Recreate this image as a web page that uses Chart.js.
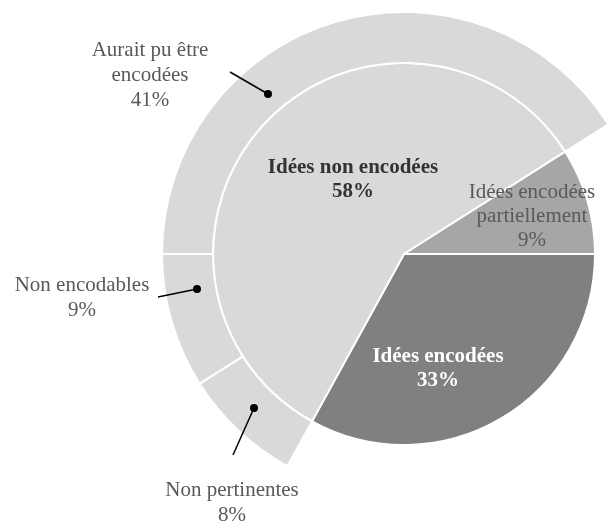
<!DOCTYPE html>
<html>
<head>
<meta charset="utf-8">
<script src="https://cdn.jsdelivr.net/npm/chart.js@4"></script>
<style>
  html, body { margin: 0; padding: 0; background: #fff; overflow: hidden; }
  #wrap { position: absolute; left: 0; top: 0; width: 808px; height: 521px; }
</style>
</head>
<body>
<div id="wrap"><canvas id="ideesChart"></canvas></div>
<script>
// inner pie: encoded / not encoded / partially encoded
const mainLabels = ['Idées encodées', 'Idées non encodées', 'Idées encodées partiellement'];
const mainValues = [33, 58, 9];
const mainColors = ['#808080', '#d9d9d9', '#a6a6a6'];

// outer ring: breakdown of the "non encodées" slice (gaps keep it aligned)
const detailLabels = ['', 'Non pertinentes', 'Non encodables', 'Aurait pu être encodées', ''];
const detailValues = [33, 8, 9, 41, 9];
const detailColors = ['rgba(0,0,0,0)', '#d9d9d9', '#d9d9d9', '#d9d9d9', 'rgba(0,0,0,0)'];
const detailBorders = ['rgba(0,0,0,0)', '#fff', '#fff', '#fff', 'rgba(0,0,0,0)'];

const serif = '"Liberation Serif", "DejaVu Serif", serif';

const labelsPlugin = {
  id: 'pieLabels',
  afterDraw(chart) {
    const ctx = chart.ctx;
    ctx.save();
    ctx.textAlign = 'center';
    ctx.textBaseline = 'middle';

    function lines(arr, x, y, step, font, color) {
      ctx.font = font;
      ctx.fillStyle = color;
      arr.forEach((t, i) => ctx.fillText(t, x, y + i * step));
    }

    lines(['Idées non encodées', mainValues[1] + '%'], 353, 168, 24, 'bold 21px ' + serif, '#333333');
    lines(['Idées encodées', mainValues[0] + '%'], 438, 357, 24, 'bold 21px ' + serif, '#ffffff');
    lines(['Idées encodées', 'partiellement', mainValues[2] + '%'], 532, 192, 24, '21px ' + serif, '#595959');

    lines(['Aurait pu être', 'encodées', detailValues[3] + '%'], 150, 50, 25, '21px ' + serif, '#595959');
    lines(['Non encodables', detailValues[2] + '%'], 82, 285, 25, '21px ' + serif, '#595959');
    lines(['Non pertinentes', detailValues[1] + '%'], 232, 490, 25, '21px ' + serif, '#595959');

    // leader lines with dots
    const leaders = [
      [230, 72, 268, 94],
      [158, 297, 197, 289],
      [233, 455, 254, 408]
    ];
    ctx.strokeStyle = '#000';
    ctx.fillStyle = '#000';
    ctx.lineWidth = 1.5;
    leaders.forEach(([x1, y1, x2, y2]) => {
      ctx.beginPath();
      ctx.moveTo(x1, y1);
      ctx.lineTo(x2, y2);
      ctx.stroke();
      ctx.beginPath();
      ctx.arc(x2, y2, 4, 0, Math.PI * 2);
      ctx.fill();
    });
    ctx.restore();
  }
};

new Chart(document.getElementById('ideesChart'), {
  type: 'doughnut',
  data: {
    datasets: [
      {
        label: 'Détail',
        data: detailValues,
        backgroundColor: detailColors,
        borderColor: detailBorders,
        borderWidth: 2,
        weight: 51
      },
      {
        label: 'Idées',
        data: mainValues,
        backgroundColor: mainColors,
        borderColor: '#fff',
        borderWidth: 2,
        weight: 191
      }
    ]
  },
  options: {
    responsive: true,
    maintainAspectRatio: false,
    animation: false,
    rotation: 90,
    cutout: 0,
    layout: { padding: { top: 11, bottom: 24, left: 0, right: 0 } },
    plugins: {
      legend: { display: false },
      tooltip: { enabled: false }
    }
  },
  plugins: [labelsPlugin]
});
</script>
</body>
</html>
